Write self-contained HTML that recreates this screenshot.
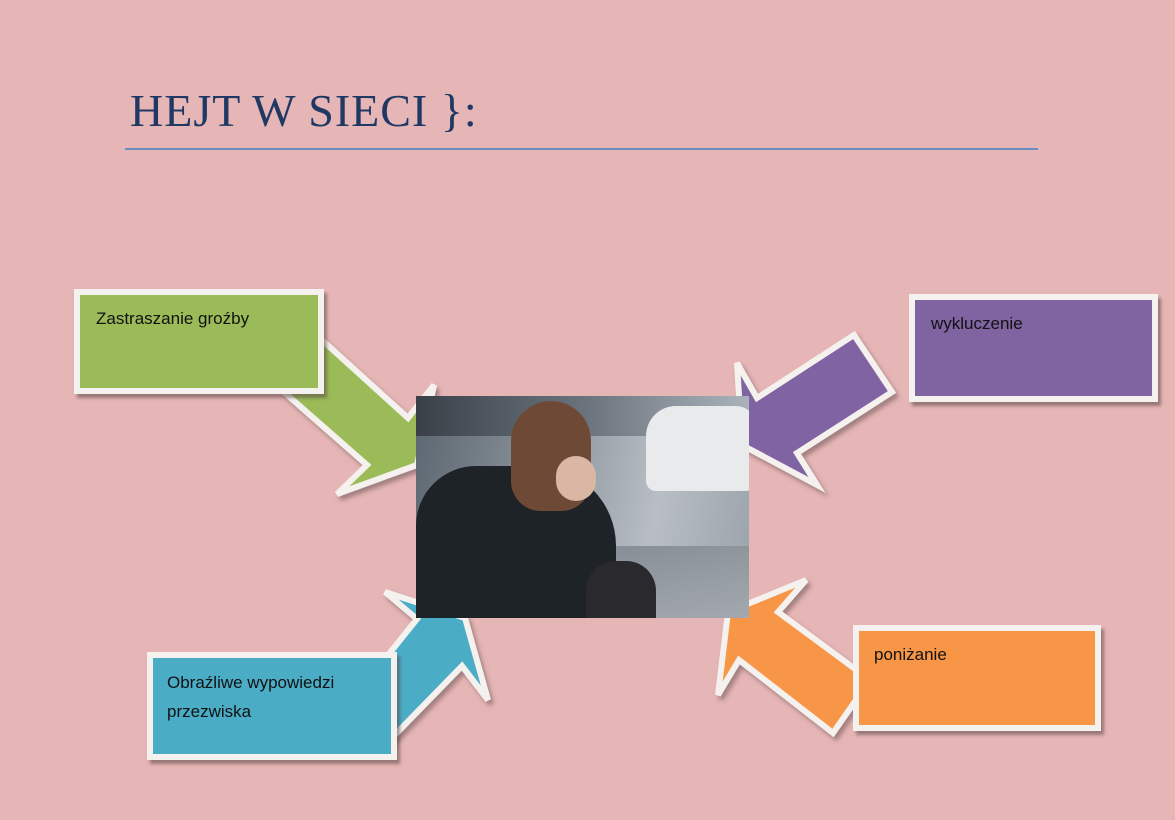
<!DOCTYPE html>
<html><head><meta charset="utf-8"><style>
body{margin:0;width:1175px;height:820px;background:#e6b5b5;position:relative;overflow:hidden;font-family:"Liberation Sans",sans-serif}
.t{position:absolute;left:130px;top:84px;font-family:"Liberation Serif",serif;font-size:46px;color:#1f3864;letter-spacing:1px}
.ln{position:absolute;left:125px;top:148px;width:913px;height:2px;background:#6a8cc0}
.b{position:absolute;border:6px solid #f4f1ef;box-shadow:3px 4px 3px rgba(90,70,70,.55);box-sizing:border-box;font-size:17px;color:#111;padding:14px 14px}
svg{position:absolute;left:0;top:0}
.img{position:absolute;left:416px;top:396px;width:333px;height:222px;overflow:hidden;background:linear-gradient(100deg,#5c6670 0%,#8d969e 40%,#b8bec4 70%,#9aa2aa 100%)}
</style></head><body>
<div class="t">HEJT W SIECI }:</div>
<div class="ln"></div>
<svg width="1175" height="820">
<defs><filter id="s"><feDropShadow dx="3" dy="4" stdDeviation="2" flood-color="#604848" flood-opacity=".5"/></filter></defs>
<g stroke="#f4f1ef" stroke-width="6" stroke-linejoin="miter" filter="url(#s)">
<polygon fill="#9bbb59" points="322,340 408,418 434,385 417,465 337,494 367,465 285,393"/>
<polygon fill="#8064a2" points="854,335 892,392 797,453 817,485 742,445 737,363 757,398"/>
<polygon fill="#4bacc6" points="385,592 465,618 488,700 462,666 385,745 360,690 417,619"/>
<polygon fill="#f79646" points="728,612 806,580 778,612 870,680 833,733 739,660 718,695"/>
</g>
</svg>
<div class="img">
<div style="position:absolute;left:0;top:0;width:333px;height:40px;background:linear-gradient(90deg,#3a4048,#6a737c 50%,#aab2ba)"></div>
<div style="position:absolute;left:230px;top:10px;width:110px;height:85px;border-radius:30px 20px 10px 10px;background:#e8eaec"></div>
<div style="position:absolute;left:0;top:150px;width:333px;height:72px;background:linear-gradient(170deg,#7d868e,#a3a9ae)"></div>
<div style="position:absolute;left:0;top:70px;width:200px;height:160px;border-radius:60px 80px 0 0;background:#1e2328"></div>
<div style="position:absolute;left:95px;top:5px;width:80px;height:110px;border-radius:40px 40px 30px 30px;background:#6e4a36"></div>
<div style="position:absolute;left:140px;top:60px;width:40px;height:45px;border-radius:20px;background:#d9b7a4"></div>
<div style="position:absolute;left:170px;top:165px;width:70px;height:57px;border-radius:30px 30px 0 0;background:#2a2a2e"></div>
</div>
<div class="b" style="left:74px;top:289px;width:250px;height:105px;background:#9bbb59;padding-left:16px">Zastraszanie groźby</div>
<div class="b" style="left:909px;top:294px;width:249px;height:108px;background:#8064a2;padding-left:16px">wykluczenie</div>
<div class="b" style="left:147px;top:652px;width:250px;height:108px;background:#4bacc6;line-height:29px;padding-top:10px">Obraźliwe wypowiedzi przezwiska</div>
<div class="b" style="left:853px;top:625px;width:248px;height:106px;background:#f79646;padding-left:15px">poniżanie</div>
</body></html>
